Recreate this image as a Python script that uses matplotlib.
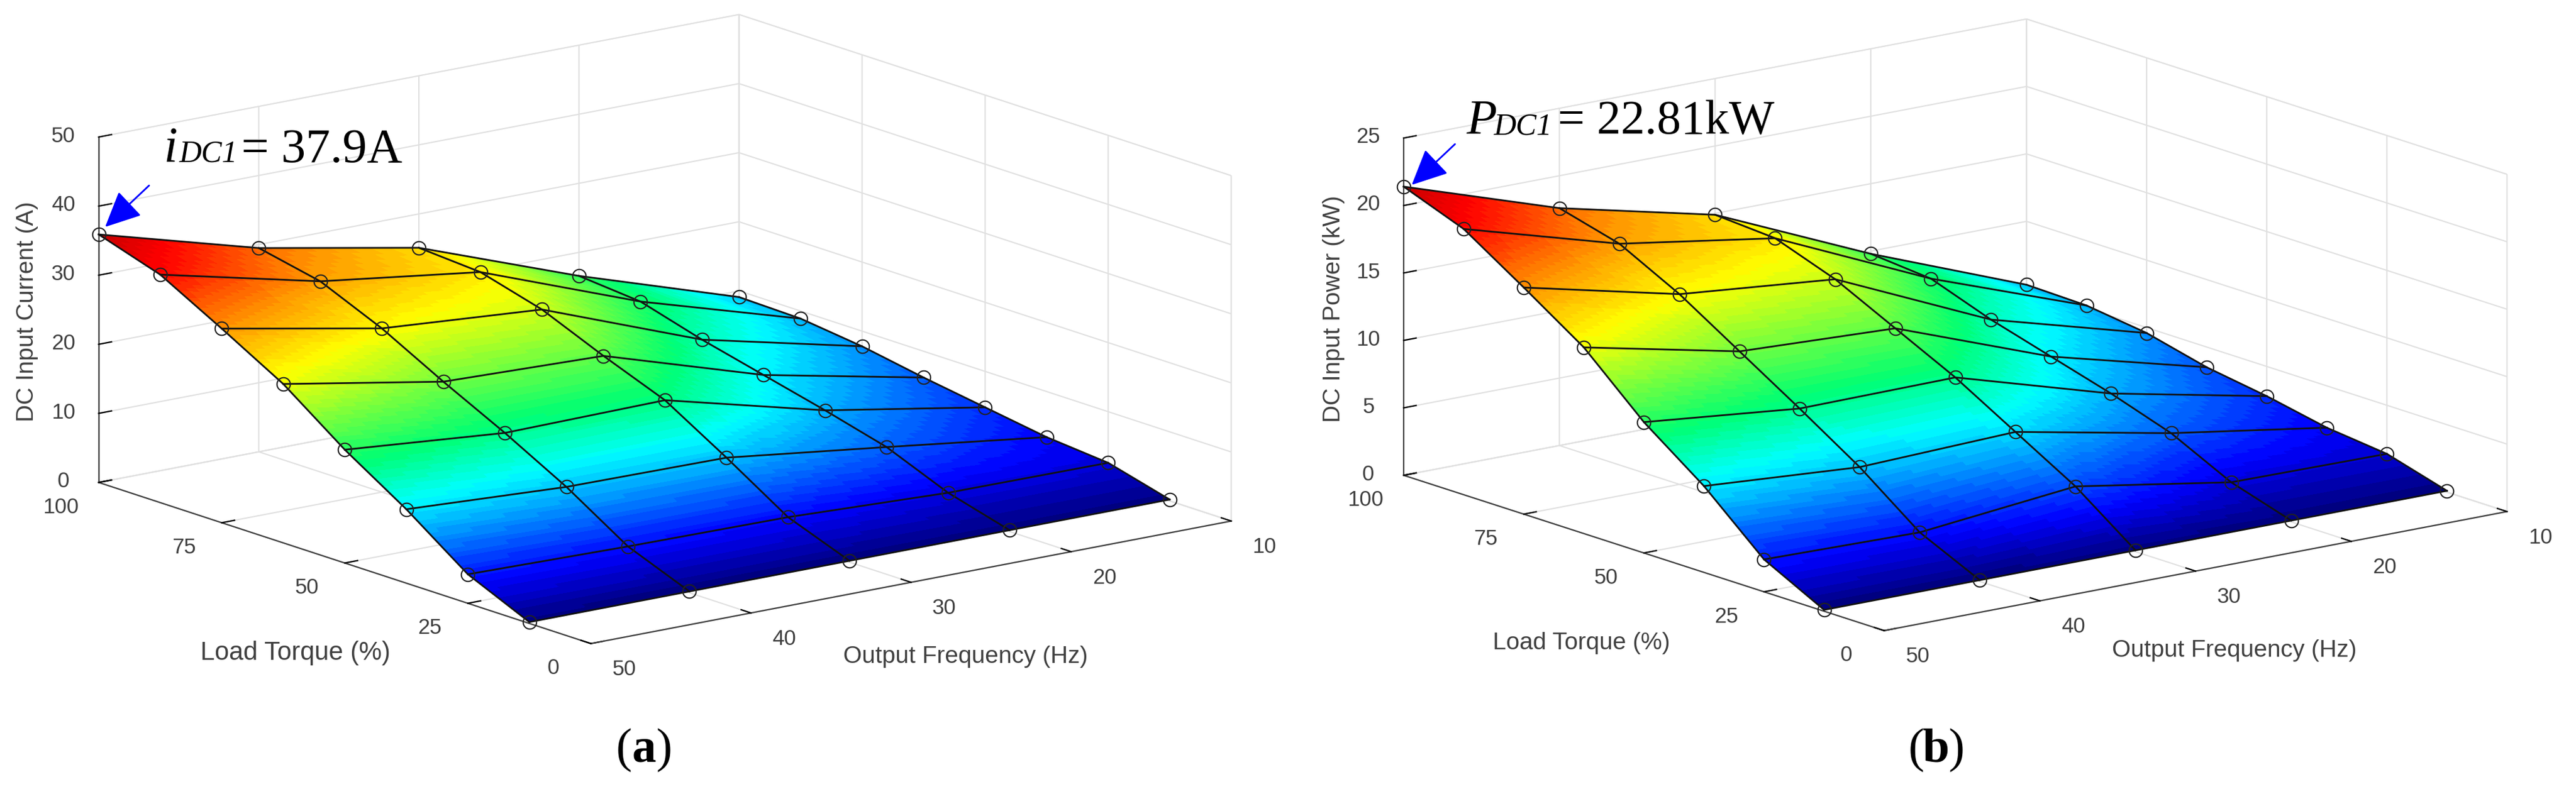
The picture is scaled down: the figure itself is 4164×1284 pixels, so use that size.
import numpy as np
import matplotlib
matplotlib.use("Agg")
import matplotlib.pyplot as plt
from matplotlib.colors import LinearSegmentedColormap
from matplotlib.patches import FancyArrowPatch
from matplotlib.text import Text
from mpl_toolkits.mplot3d import Axes3D  # noqa

W, H = 4164, 1284

torque = [100, 87.5, 75, 62.5, 50, 37.5, 25, 12.5]
freq = [50, 40, 30, 20, 10]
current = [
    [35.9, 29.5, 25.1, 16.6, 9.1],
    [33.0, 27.6, 24.5, 15.8, 8.9],
    [28.1, 23.7, 22.0, 13.2, 7.8],
    [23.0, 18.9, 18.2, 11.0, 6.2],
    [16.4, 14.4, 14.7, 8.8, 4.8],
    [10.7, 9.5, 9.3, 6.4, 3.4],
    [4.2, 3.8, 3.6, 2.7, 2.6],
    [0.2, 0.2, 0.2, 0.2, 0.2],
]
power = [
    [21.4, 17.6, 14.9, 9.8, 5.3],
    [19.7, 16.4, 14.6, 9.4, 5.2],
    [16.8, 14.1, 13.0, 7.8, 4.6],
    [13.8, 11.3, 10.8, 6.5, 3.5],
    [9.7, 8.5, 8.6, 5.2, 2.8],
    [6.4, 5.6, 6.0, 3.7, 1.9],
    [2.4, 2.2, 3.4, 1.5, 1.4],
    [0.1, 0.1, 0.1, 0.1, 0.1],
]
torque_ticks = [0, 25, 50, 75, 100]
freq_ticks = [10, 20, 30, 40, 50]
current_ticks = [0, 10, 20, 30, 40, 50]
power_ticks = [0, 5, 10, 15, 20, 25]

SANS = "Liberation Sans"
SERIF = "Liberation Serif"
TXT = "#404040"
GRID = "#e0e0e0"

surface_cmap = LinearSegmentedColormap.from_list("surface", [
    (0.00, (0.00, 0.00, 0.50)),
    (0.09, (0.00, 0.00, 1.00)),
    (0.31, (0.00, 1.00, 1.00)),
    (0.42, (0.00, 1.00, 0.45)),
    (0.66, (1.00, 1.00, 0.00)),
    (0.78, (1.00, 0.60, 0.00)),
    (0.93, (1.00, 0.00, 0.00)),
    (1.00, (0.80, 0.00, 0.00)),
], N=64)

fig = plt.figure(figsize=(W / 100, H / 100), dpi=100, facecolor="white")


def refine(Z, n=16):
    Z = np.asarray(Z, float)
    r = np.linspace(0, Z.shape[0] - 1, (Z.shape[0] - 1) * n + 1)
    c = np.linspace(0, Z.shape[1] - 1, (Z.shape[1] - 1) * n + 1)
    ri = np.minimum(r.astype(int), Z.shape[0] - 2)
    ci = np.minimum(c.astype(int), Z.shape[1] - 2)
    rt = (r - ri)[:, None]
    ct = (c - ci)[None, :]
    return (Z[np.ix_(ri, ci)] * (1 - rt) * (1 - ct) + Z[np.ix_(ri + 1, ci)] * rt * (1 - ct)
            + Z[np.ix_(ri, ci + 1)] * (1 - rt) * ct + Z[np.ix_(ri + 1, ci + 1)] * rt * ct)


def pin_label(axis, left, bottom, side, px, py):
    """mplot3d re-places axis labels on every draw; keep this one at a pixel position."""
    lab = axis.label
    x = (px - left) / side * 0.185 - 0.095
    y = (H - py - bottom) / side * 0.185 - 0.095
    lab.set_position = lambda xy: Text.set_position(lab, (x, y))


def shift_ticklabels(axis, side, dx, dy):
    for t in axis.get_major_ticks():
        lab = t.label1
        lab.set_position = (lambda l: lambda xy: Text.set_position(
            l, (xy[0] + dx / side * 0.185, xy[1] - dy / side * 0.185)))(lab)


def panel(left, bottom, side, elev, azim, aspect, Z, zticks, zlabel, label_px, shifts, torque_size):
    ax = fig.add_axes([left / W, bottom / H, side / W, side / H], projection="3d",
                      proj_type="ortho", computed_zorder=False)
    ax.patch.set_alpha(0)
    ax.set_box_aspect(aspect)
    ax.view_init(elev=elev, azim=azim)
    ax.set_xlim(0, 100)
    ax.set_ylim(10, 50)
    ax.set_zlim(zticks[0], zticks[-1])
    ax.set_xticks(torque_ticks)
    ax.set_yticks(freq_ticks)
    ax.set_zticks(zticks)
    for axis, lab, size in ((ax.xaxis, "Load Torque (%)", torque_size),
                            (ax.yaxis, "Output Frequency (Hz)", 28),
                            (ax.zaxis, zlabel, 28)):
        axis.set_pane_color((1, 1, 1, 1))
        axis.pane.set_edgecolor(GRID)
        axis.line.set_color(TXT)
        axis.line.set_linewidth(1.6)
        axis._axinfo["grid"].update(color=GRID, linewidth=1.5)
        axis._axinfo["tick"].update(inward_factor=0.0, outward_factor=0.25,
                                    linewidth={True: 1.6, False: 1.0}, color=TXT)
        axis.set_rotate_label(False)
        axis.set_label_text(lab, fontsize=size, family=SANS, color=TXT)
    ax.zaxis.set_ticks_position("upper")
    ax.zaxis.set_label_position("upper")
    ax.zaxis.label.set_rotation(90)
    ax.tick_params(axis="x", pad=14, labelsize=25, labelcolor=TXT)
    ax.tick_params(axis="y", pad=14, labelsize=25, labelcolor=TXT)
    ax.tick_params(axis="z", pad=14, labelsize=25, labelcolor=TXT)
    for lab in ax.get_xticklabels() + ax.get_yticklabels() + ax.get_zticklabels():
        lab.set_family(SANS)
    for axis, (px, py), (dx, dy) in zip((ax.xaxis, ax.yaxis, ax.zaxis), label_px, shifts):
        pin_label(axis, left, bottom, side, px, py)
        shift_ticklabels(axis, side, dx, dy)

    Zf = refine(Z)
    Tf = refine(np.tile(np.array(torque)[:, None], (1, len(freq))))
    Ff = refine(np.tile(np.array(freq)[None, :], (len(torque), 1)))
    znorm = (Zf[:-1, :-1] + Zf[1:, 1:]) / 2
    znorm = np.clip(znorm / np.max(Z), 0, 1)
    cols = surface_cmap(znorm)
    ax.plot_surface(Tf, Ff, Zf, facecolors=cols, rstride=1, cstride=1, shade=False,
                    linewidth=0.4, edgecolor="none", antialiased=False, zorder=1)
    Za = np.asarray(Z)
    for j, f in enumerate(freq):
        ax.plot(torque, [f] * len(torque), Za[:, j], color="#111111", lw=2.0, zorder=2)
    for i, t in enumerate(torque):
        ax.plot([t] * len(freq), freq, Za[i], color="#111111", lw=2.0, zorder=2)
    TT, FF = np.meshgrid(torque, freq, indexing="ij")
    ax.plot(TT.ravel(), FF.ravel(), Za.ravel(), ls="none", marker="o", ms=15.5, mfc="none",
            mec="#222222", mew=1.5, zorder=3)
    return ax


panel(110, -213, 1879, 14.5, 142.6, (1310, 1303, 577), current, current_ticks,
      "DC Input Current (A)", [(477, 1056), (1561, 1062), (44, 504)],
      [(-29, 0), (29, 0), (0, -16)], 30)
panel(2221, -181, 1830, 14.4, 142.44, (1274, 1270, 563), power, power_ticks,
      "DC Input Power (kW)", [(2556, 1040), (3612, 1052), (2156, 500)],
      [(-29, 0), (29, 0), (0, -16)], 28)


def ptext(x, y, s, **kw):
    fig.text(x / W, 1 - y / H, s, va="baseline", ha=kw.pop("ha", "left"), color="black", **kw)


ptext(265, 262, "i", family=SERIF, style="italic", fontsize=58)
ptext(290, 262, "DC1", family=SERIF, style="italic", fontsize=36)
ptext(390, 262, "= 37.9A", family=SERIF, fontsize=57)

ptext(2370, 217, "P", family=SERIF, style="italic", fontsize=58)
ptext(2415, 217, "DC1", family=SERIF, style="italic", fontsize=36)
ptext(2518, 217, "= 22.81kW", family=SERIF, fontsize=56)

for cx, letter in ((1041, "a"), (3130, "b")):
    ptext(cx - 32, 1232, "(", family=SERIF, fontsize=56, ha="center")
    ptext(cx, 1232, letter, family=SERIF, fontsize=56, weight="bold", ha="center")
    ptext(cx + 32, 1232, ")", family=SERIF, fontsize=56, ha="center")

for tip, tail in (((170, 367), (241, 300)), ((2282, 299), (2352, 233))):
    fig.add_artist(FancyArrowPatch(
        (tail[0] / W, 1 - tail[1] / H), (tip[0] / W, 1 - tip[1] / H),
        transform=fig.transFigure, arrowstyle="-|>,head_length=1.8,head_width=0.85",
        mutation_scale=20, color="#0000ff", lw=2.0, shrinkA=0, shrinkB=0))

fig.savefig("out.png", dpi=100, facecolor="white")
